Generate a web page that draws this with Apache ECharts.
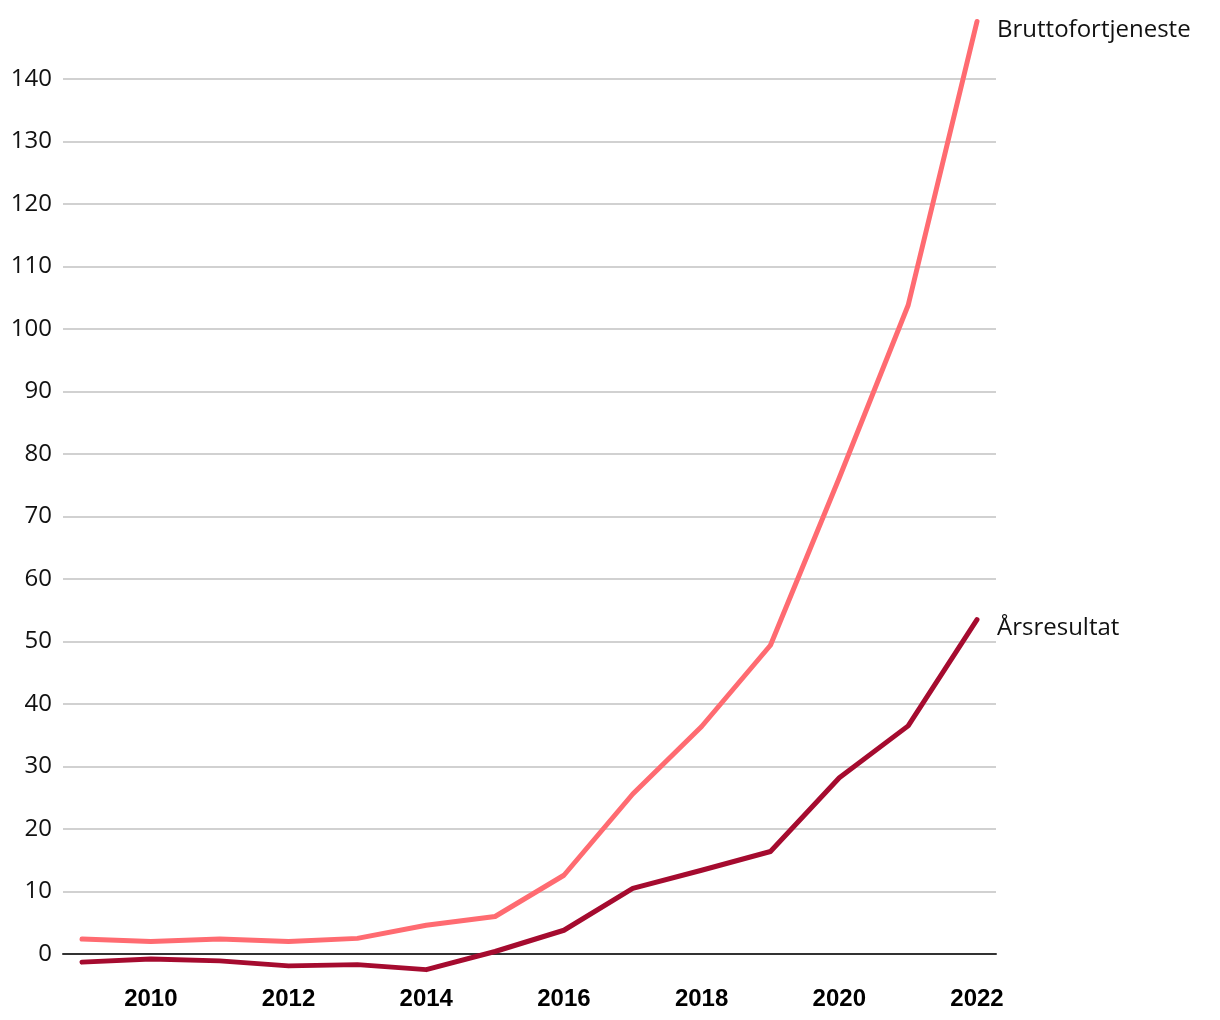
<!DOCTYPE html>
<html>
<head>
<meta charset="utf-8">
<script src="https://cdn.jsdelivr.net/npm/echarts@6/dist/echarts.min.js"></script>
<style>html,body{margin:0;padding:0;background:#fff}#c{width:1220px;height:1020px}</style>
</head>
<body>
<div id="c"></div>
<script>
const years = [2009,2010,2011,2012,2013,2014,2015,2016,2017,2018,2019,2020,2021,2022];
const brutto = [2.4,2.0,2.4,2.0,2.5,4.6,6.0,12.6,25.6,36.4,49.4,76.2,103.8,149.2];
const arsresultat = [-1.3,-0.8,-1.1,-1.9,-1.7,-2.5,0.4,3.8,10.5,13.4,16.4,28.2,36.5,53.5];
const xTickLabels = [2010,2012,2014,2016,2018,2020,2022];
const yTicks = [0,10,20,30,40,50,60,70,80,90,100,110,120,130,140];
const seriesNames = ['Bruttofortjeneste','Årsresultat'];

const chart = echarts.init(document.getElementById('c'));
const pair = arr => years.map((y,i)=>[y,arr[i]]);
const endLbl = (name) => ({
  show: true, formatter: name, distance: 20, offset: [0, 9],
  fontFamily: 'Open Sans', fontSize: 24, color: '#111'
});
chart.setOption({
  animation: false,
  grid: {left: 63, right: 224, top: 79, bottom: 66, containLabel: false},
  xAxis: {
    type: 'value', min: 2008.724, max: 2022.276,
    splitLine: {show: false},
    axisTick: {show: false},
    axisLine: {show: true, onZero: true, lineStyle: {color: '#333', width: 2}},
    axisLabel: {
      customValues: xTickLabels, formatter: v => String(v),
      fontFamily: 'Liberation Sans', fontWeight: 'bold', fontSize: 24, color: '#000', margin: 33
    }
  },
  yAxis: {
    type: 'value', min: 0, max: 140, interval: 10,
    axisLine: {show: false}, axisTick: {show: false},
    splitLine: {show: true, lineStyle: {color: '#c2c2c2', width: 1.5}},
    axisLabel: {
      customValues: yTicks,
      fontFamily: 'Open Sans', fontSize: 24, color: '#111', margin: 11
    }
  },
  series: [
    {name: seriesNames[0], type: 'line', data: pair(brutto), clip: false, symbol: 'none',
     lineStyle: {color: '#ff6b71', width: 5, cap: 'round', join: 'round'},
     itemStyle: {color: '#ff6b71'}, endLabel: endLbl(seriesNames[0]), z: 3},
    {name: seriesNames[1], type: 'line', data: pair(arsresultat), clip: false, symbol: 'none',
     lineStyle: {color: '#a50b2f', width: 5, cap: 'round', join: 'round'},
     itemStyle: {color: '#a50b2f'}, endLabel: endLbl(seriesNames[1]), z: 4}
  ]
});
</script>
</body>
</html>
